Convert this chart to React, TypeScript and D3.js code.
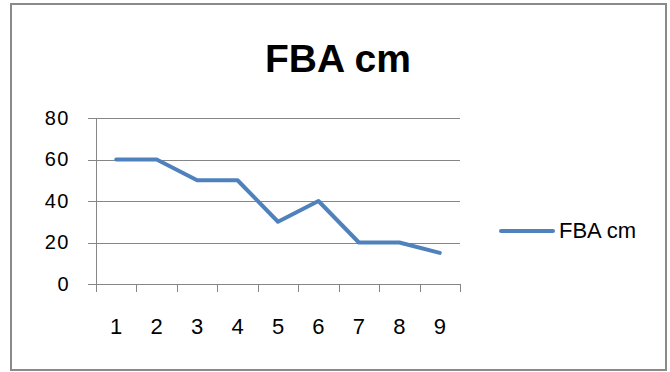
import React from "react";
import * as d3 from "d3";

const categories = ["1", "2", "3", "4", "5", "6", "7", "8", "9"];
const fbaValues = [60, 60, 50, 50, 30, 40, 20, 20, 15];
const yTicks = [0, 20, 40, 60, 80];
const seriesName = "FBA cm";
const titleText = "FBA cm";

export default function App() {
  const W = 670;
  const H = 372;
  const plotLeft = 96;
  const plotRight = 460;
  const plotTop = 118;
  const plotBottom = 284;
  const font = "'Liberation Sans', Arial, sans-serif";
  const gridColor = "#868686";
  const lineColor = "#4F81BD";

  const x = d3
    .scaleBand<string>()
    .domain(categories)
    .range([plotLeft, plotRight])
    .paddingInner(0)
    .paddingOuter(0);
  const y = d3.scaleLinear().domain([0, 80]).range([plotBottom, plotTop]);

  const line = d3
    .line<number>()
    .x((_, i) => (x(categories[i]) as number) + x.bandwidth() / 2)
    .y((d) => y(d));

  const tickEdges = categories.map((c) => x(c) as number).concat([plotRight]);

  return (
    <svg
      width={W}
      height={H}
      style={{ position: "absolute", left: 0, top: 0, background: "#fff" }}
    >
      <rect x={11} y={4} width={655} height={366} fill="#fff" stroke="#8a8a8a" strokeWidth={2} />
      <text
        x={338}
        y={72}
        textAnchor="middle"
        fontFamily={font}
        fontWeight="bold"
        fontSize={39}
        fill="#000"
      >
        {titleText}
      </text>

      {/* horizontal gridlines */}
      {yTicks.map((t) => (
        <line
          key={"g" + t}
          x1={plotLeft - 8}
          x2={plotRight}
          y1={Math.round(y(t)) + 0.5}
          y2={Math.round(y(t)) + 0.5}
          stroke={gridColor}
          strokeWidth={1}
        />
      ))}
      {/* y axis */}
      <line
        x1={plotLeft + 0.5}
        x2={plotLeft + 0.5}
        y1={plotTop}
        y2={plotBottom + 8}
        stroke={gridColor}
      />
      {/* x tick marks */}
      {tickEdges.map((e, i) => (
        <line
          key={"xt" + i}
          x1={Math.round(e) + 0.5}
          x2={Math.round(e) + 0.5}
          y1={plotBottom}
          y2={plotBottom + 8}
          stroke={gridColor}
        />
      ))}
      {/* y labels */}
      {yTicks.map((t) => (
        <text
          key={"yl" + t}
          x={70}
          y={y(t) + 6.5}
          textAnchor="end"
          fontFamily={font}
          fontSize={20}
          letterSpacing={1.5}
          fill="#000"
        >
          {t}
        </text>
      ))}
      {/* x labels */}
      {categories.map((c) => (
        <text
          key={"xl" + c}
          x={(x(c) as number) + x.bandwidth() / 2}
          y={334}
          textAnchor="middle"
          fontFamily={font}
          fontSize={22}
          fill="#000"
        >
          {c}
        </text>
      ))}

      <path
        d={line(fbaValues) || ""}
        fill="none"
        stroke={lineColor}
        strokeWidth={4}
        strokeLinejoin="round"
        strokeLinecap="round"
      />

      {/* legend */}
      <line x1={501} x2={553} y1={231} y2={231} stroke={lineColor} strokeWidth={4} strokeLinecap="round" />
      <text x={559} y={238} fontFamily={font} fontSize={22} fill="#000">
        {seriesName}
      </text>
    </svg>
  );
}
